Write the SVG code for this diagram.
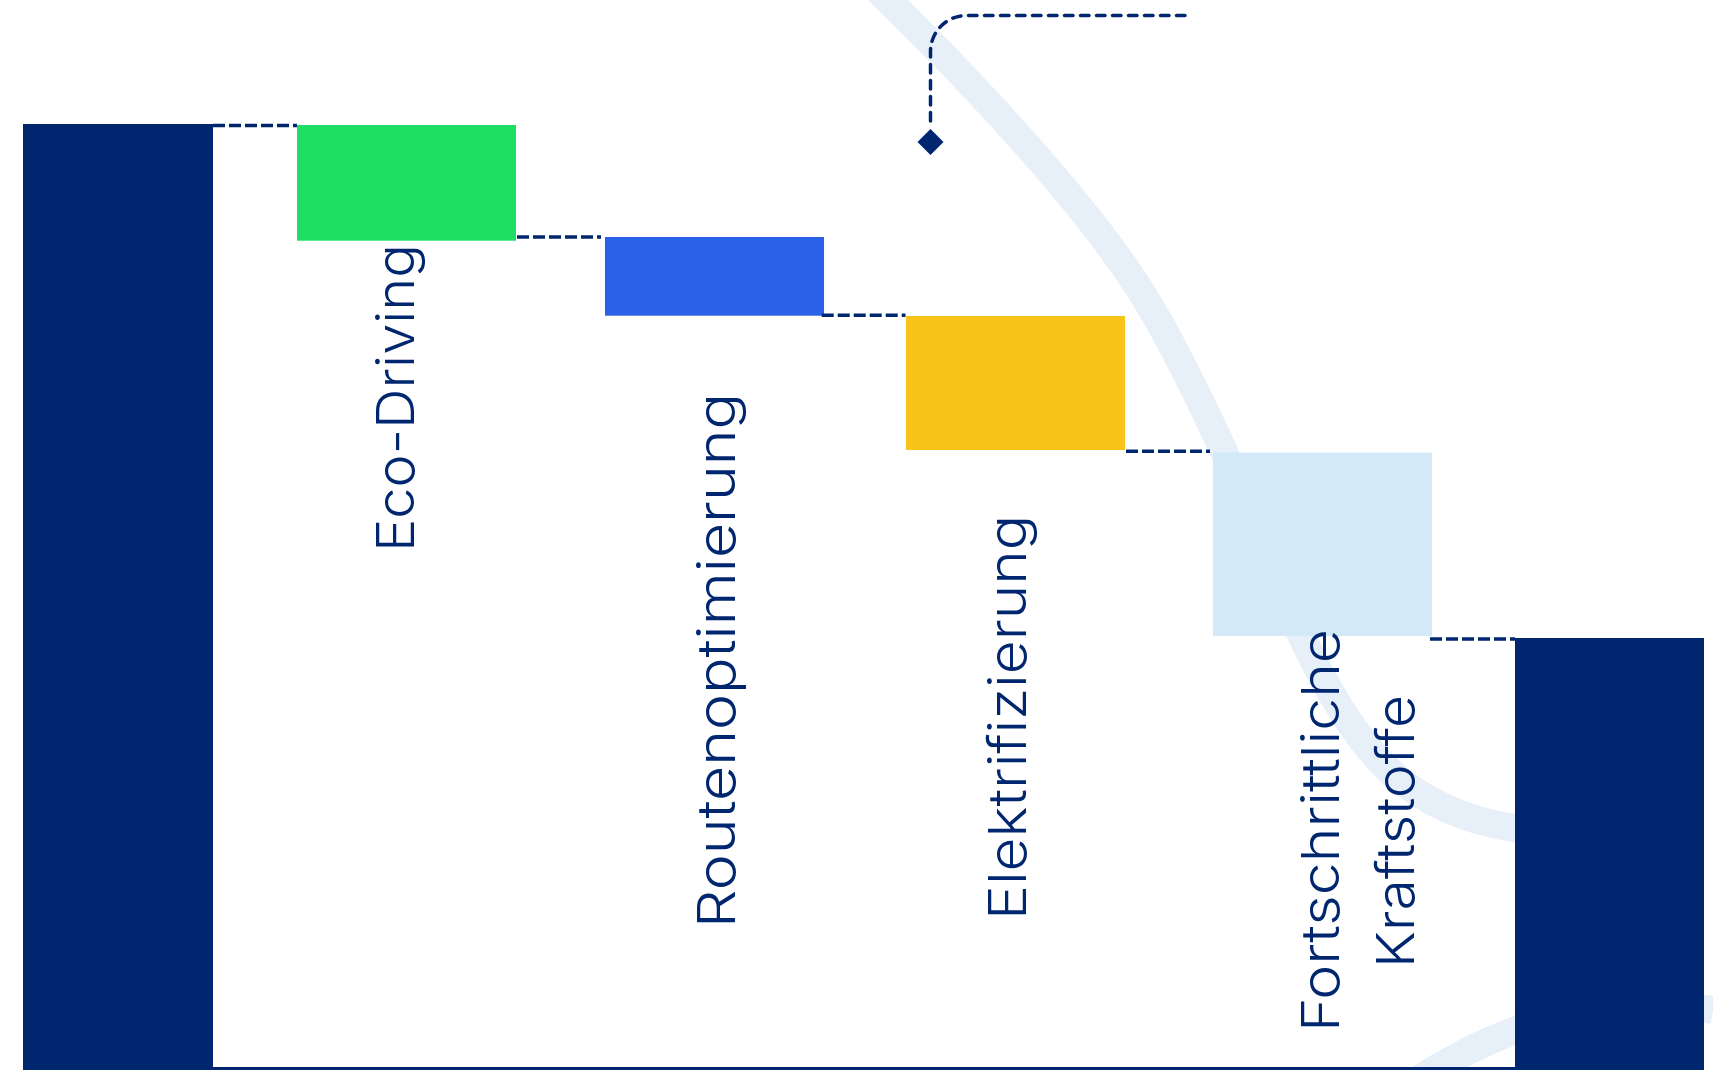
<svg xmlns="http://www.w3.org/2000/svg" width="1713" height="1070" viewBox="0 0 1713 1070">
  <style>
    .bg { fill: none; stroke: #E7EFF9; stroke-width: 28; }
    .navy { fill: #002670; }
    .lbl { font-family: Inter, Roboto, "Open Sans", "Liberation Sans", sans-serif; font-weight: 300; font-size: 52px; fill: #002670; }
    .dash { fill: none; stroke: #002670; stroke-width: 3.5; stroke-dasharray: 12 4; }
    .dashr { fill: none; stroke: #002670; stroke-width: 3.5; stroke-dasharray: 8.5 7.5; stroke-linecap: round; }
  </style>
  <defs>
    <marker id="diamond" markerUnits="userSpaceOnUse" markerWidth="26" markerHeight="26" refX="-4" refY="13" orient="auto" overflow="visible">
      <path d="M0 13 L13 0 L26 13 L13 26 Z" fill="#002670"/>
    </marker>
  </defs>
  <rect width="1713" height="1070" fill="#FFFFFF"/>
  <g id="background">
    <path class="bg" d="M878 -10 C960 70 1085 200 1145 298 C1180 355 1230 460 1262 540 C1292 620 1340 735 1405 784 C1445 814 1490 826 1530 830"/>
    <path class="bg" d="M1410 1085 Q1560 985 1713 1010"/>
  </g>
  <g id="axis">
    <rect x="23" y="1067" width="1681" height="3" class="navy"/>
  </g>
  <g id="start-bar"><rect x="23" y="124" width="190" height="946" class="navy"/></g>
  <g id="eco-driving">
    <rect x="297" y="125" width="219" height="115.7" fill="#1EDF64"/>
    <text class="lbl" transform="translate(414 552) rotate(-90)" textLength="308" lengthAdjust="spacingAndGlyphs">Eco-Driving</text>
  </g>
  <g id="routenoptimierung">
    <rect x="605" y="237" width="219" height="78.7" fill="#2962E8"/>
    <text class="lbl" transform="translate(735 928) rotate(-90)" textLength="535" lengthAdjust="spacingAndGlyphs">Routenoptimierung</text>
  </g>
  <g id="elektrifizierung">
    <rect x="906" y="316" width="219" height="134" fill="#F8C418"/>
    <text class="lbl" transform="translate(1026 920) rotate(-90)" textLength="405" lengthAdjust="spacingAndGlyphs">Elektrifizierung</text>
  </g>
  <g id="kraftstoffe">
    <rect x="1213" y="452.5" width="219" height="183.5" fill="#D4E9F7"/>
    <text class="lbl" transform="translate(1339 1032) rotate(-90)" textLength="403" lengthAdjust="spacingAndGlyphs">Fortschrittliche</text>
    <text class="lbl" transform="translate(1414 968) rotate(-90)" textLength="273" lengthAdjust="spacingAndGlyphs">Kraftstoffe</text>
  </g>
  <g id="end-bar"><rect x="1515" y="638" width="189" height="432" class="navy"/></g>
  <g id="connectors">
    <path class="dash" d="M213 125.5 H297"/>
    <path class="dash" d="M517 237 H601"/>
    <path class="dash" d="M821.7 315.3 H905.5"/>
    <path class="dash" d="M1126 451.3 H1210"/>
    <path class="dash" d="M1430 639 H1515"/>
    <path class="dashr" d="M1185 15.5 H966.5 A36 36 0 0 0 930.5 51.5 V125" marker-end="url(#diamond)"/>
  </g>
</svg>
